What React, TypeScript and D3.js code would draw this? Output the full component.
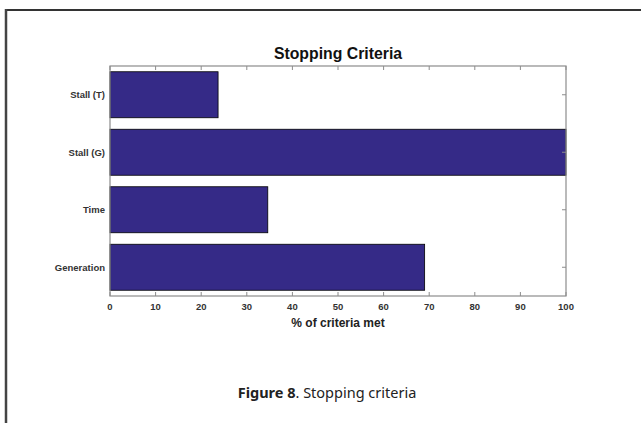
import React from 'react';
import * as d3 from 'd3';

// categories listed top to bottom as they appear
const categories = ['Stall (T)', 'Stall (G)', 'Time', 'Generation'];
const percentMet = [23.7, 100, 34.6, 69];
const xTicks = [0, 10, 20, 30, 40, 50, 60, 70, 80, 90, 100];

const W = 641;
const H = 423;
const margin = { top: 66, right: 75, bottom: 127, left: 110 };

const App = () => {
  const innerW = W - margin.left - margin.right;
  const innerH = H - margin.top - margin.bottom;

  const x = d3.scaleLinear().domain([0, 100]).range([0, innerW]);
  const y = d3.scaleBand().domain(categories).range([0, innerH]).paddingInner(0.2).paddingOuter(0.1);

  const axisColor = '#8c8c8c';
  const font = '"Liberation Sans", Arial, sans-serif';

  return (
    <div style={{ position: 'fixed', left: 0, top: 0 }}>
      <svg width={W} height={H} style={{ display: 'block', background: '#fff' }}>
        {/* page frame */}
        <line x1={6} y1={10} x2={W} y2={10} stroke="#333" strokeWidth={2} />
        <line x1={6} y1={9} x2={6} y2={H} stroke="#444" strokeWidth={2.5} />

        <text x={margin.left + innerW / 2} y={59} textAnchor="middle"
          fontFamily={font} fontWeight="bold" fontSize={15.8} fill="#111">
          Stopping Criteria
        </text>

        <g transform={`translate(${margin.left},${margin.top})`}>
          {categories.map((c, i) => (
            <rect key={c} x={x(0)} y={y(c)} width={x(percentMet[i]) - x(0)} height={y.bandwidth()}
              fill="#352a87" stroke="#000" strokeWidth={0.8} />
          ))}

          {/* ticks, inward on all sides */}
          {xTicks.map(t => (
            <g key={t}>
              <line x1={x(t)} x2={x(t)} y1={innerH} y2={innerH - 4} stroke={axisColor} />
              <line x1={x(t)} x2={x(t)} y1={0} y2={4} stroke={axisColor} />
              <text x={x(t)} y={innerH + 14} textAnchor="middle" fontFamily={font}
                fontWeight="bold" fontSize={9.5} fill="#333">{t}</text>
            </g>
          ))}
          {categories.map(c => {
            const cy = (y(c) ?? 0) + y.bandwidth() / 2;
            return (
              <g key={c}>
                <line x1={innerW} x2={innerW - 4} y1={cy} y2={cy} stroke={axisColor} />
                <text x={-5} y={cy} dy="0.35em" textAnchor="end" fontFamily={font}
                  fontWeight="bold" fontSize={9.5} fill="#333">{c}</text>
              </g>
            );
          })}

          <rect x={0} y={0} width={innerW} height={innerH} fill="none" stroke={axisColor} strokeWidth={1.2} />

          <text x={innerW / 2} y={innerH + 31} textAnchor="middle" fontFamily={font}
            fontWeight="bold" fontSize={12} fill="#222">% of criteria met</text>
        </g>

        <text x={327} y={398} textAnchor="middle" fontFamily='"Noto Sans", "Open Sans", sans-serif'
          fontSize={14.5} fill="#222">
          <tspan fontWeight="bold">Figure 8</tspan>. Stopping criteria
        </text>
      </svg>
    </div>
  );
};

export default App;
